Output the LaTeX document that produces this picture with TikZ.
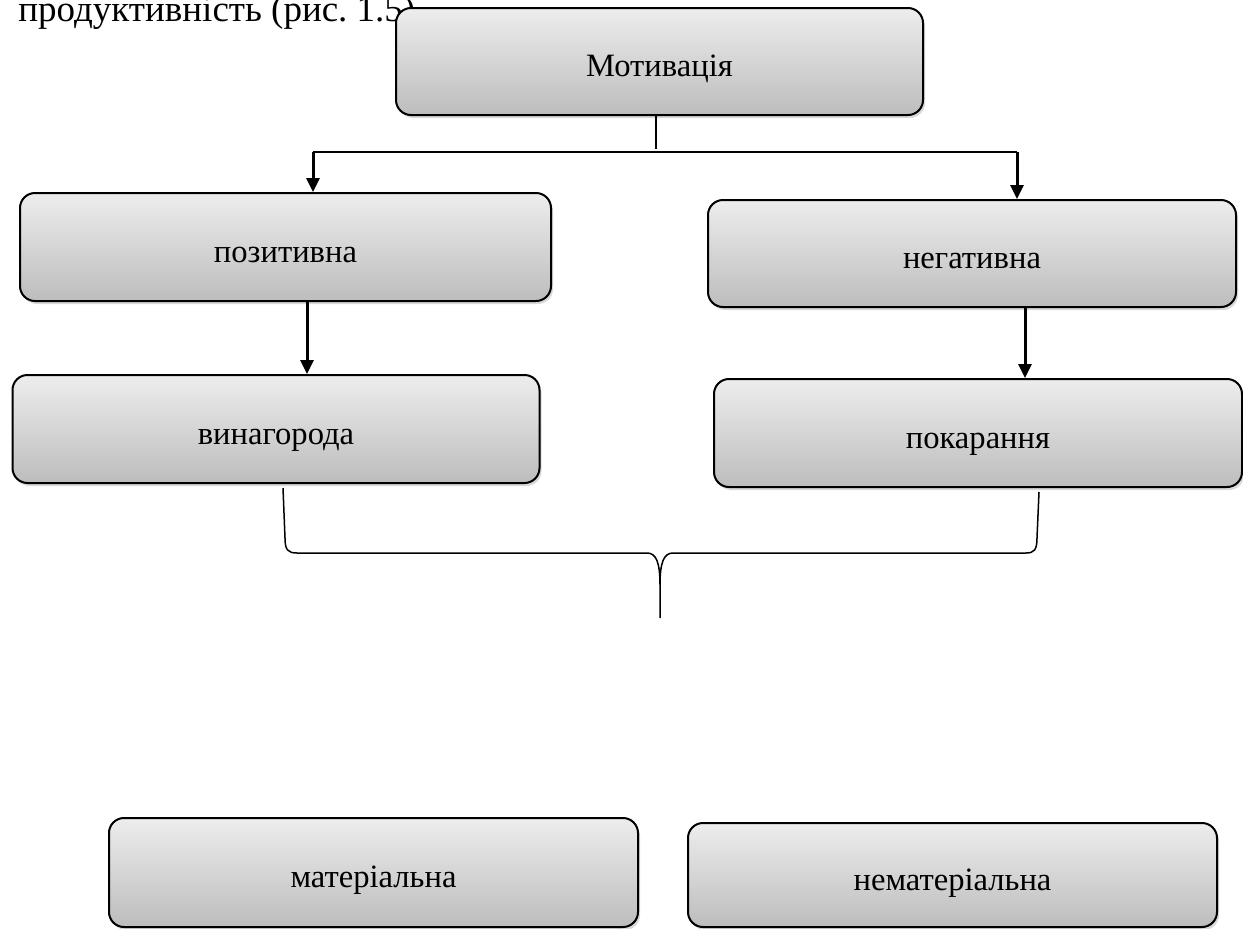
\documentclass[tikz,border=0pt]{standalone}
\usepackage{fontspec}
\setmainfont{Liberation Serif}
\usepackage{tikz}
\usetikzlibrary{arrows.meta,shadows}
\frenchspacing

\begin{document}
\begin{tikzpicture}[x=0.5pt,y=-0.5pt,>={Triangle[length=7pt,width=6.5pt]},
  box node/.style={rectangle,rounded corners=7.5pt,draw,line width=1pt,
        top color=gray!14,bottom color=gray!52,
        drop shadow={shadow xshift=1pt,shadow yshift=-1.5pt,opacity=0.3},
        inner sep=0pt,font=\fontsize{16.3}{19}\selectfont,
        text height=16pt,text depth=1pt},
  link/.style={line width=0.75pt},
  arrow/.style={->,line width=1.5pt}]
  \useasboundingbox (0,0) rectangle (1243,928);
  \node[anchor=base west,inner sep=0pt,font=\fontsize{18.5}{22}\selectfont] (0) at (18,21) {продуктивність (рис. 1.5)};

  \node[box node,minimum width=263.5pt,minimum height=53.5pt] (1) at (659.5,61.5) {Мотивація};
  \node[box node,minimum width=265.5pt,minimum height=54pt] (2) at (285.5,247) {позитивна};
  \node[box node,minimum width=264pt,minimum height=53.5pt] (3) at (972,253.5) {негативна};
  \node[box node,minimum width=263.5pt,minimum height=54pt] (4) at (276,429) {винагорода};
  \node[box node,minimum width=264pt,minimum height=54pt] (5) at (978,433) {покарання};
  \node[box node,minimum width=264.5pt,minimum height=54.5pt] (6) at (373.5,872.5) {матеріальна};
  \node[box node,minimum width=264.5pt,minimum height=52pt] (7) at (952.5,875) {нематеріальна};

  \coordinate (fl) at (313,152);
  \coordinate (fr) at (1017,152);
  \draw[link] (1.south -| 656,0) -- (656,149);
  \draw[link] (fl) -- (fr);
  \draw[arrow] (fl) -- (2.north -| fl);
  \draw[arrow] (fr) -- (3.north -| fr);
  \draw[arrow] (2.south -| 307,0) -- (4.north -| 307,0);
  \draw[arrow] (3.south -| 1025,0) -- (5.north -| 1025,0);

  % brace under the two boxes
  \coordinate (bl) at (283,488);
  \coordinate (br) at (1039,492);
  \coordinate (tip) at (660,618);
  \draw[link] (bl) -- (285,538) .. controls (285,550) and (288,553) .. (297,553)
    -- (647,553) .. controls (656,553) and (660,562) .. (660,585) -- (tip)
    -- (660,585) .. controls (660,562) and (664,553) .. (673,553)
    -- (1026,553) .. controls (1034,553) and (1037,550) .. (1037,538) -- (br);
\end{tikzpicture}
\end{document}
